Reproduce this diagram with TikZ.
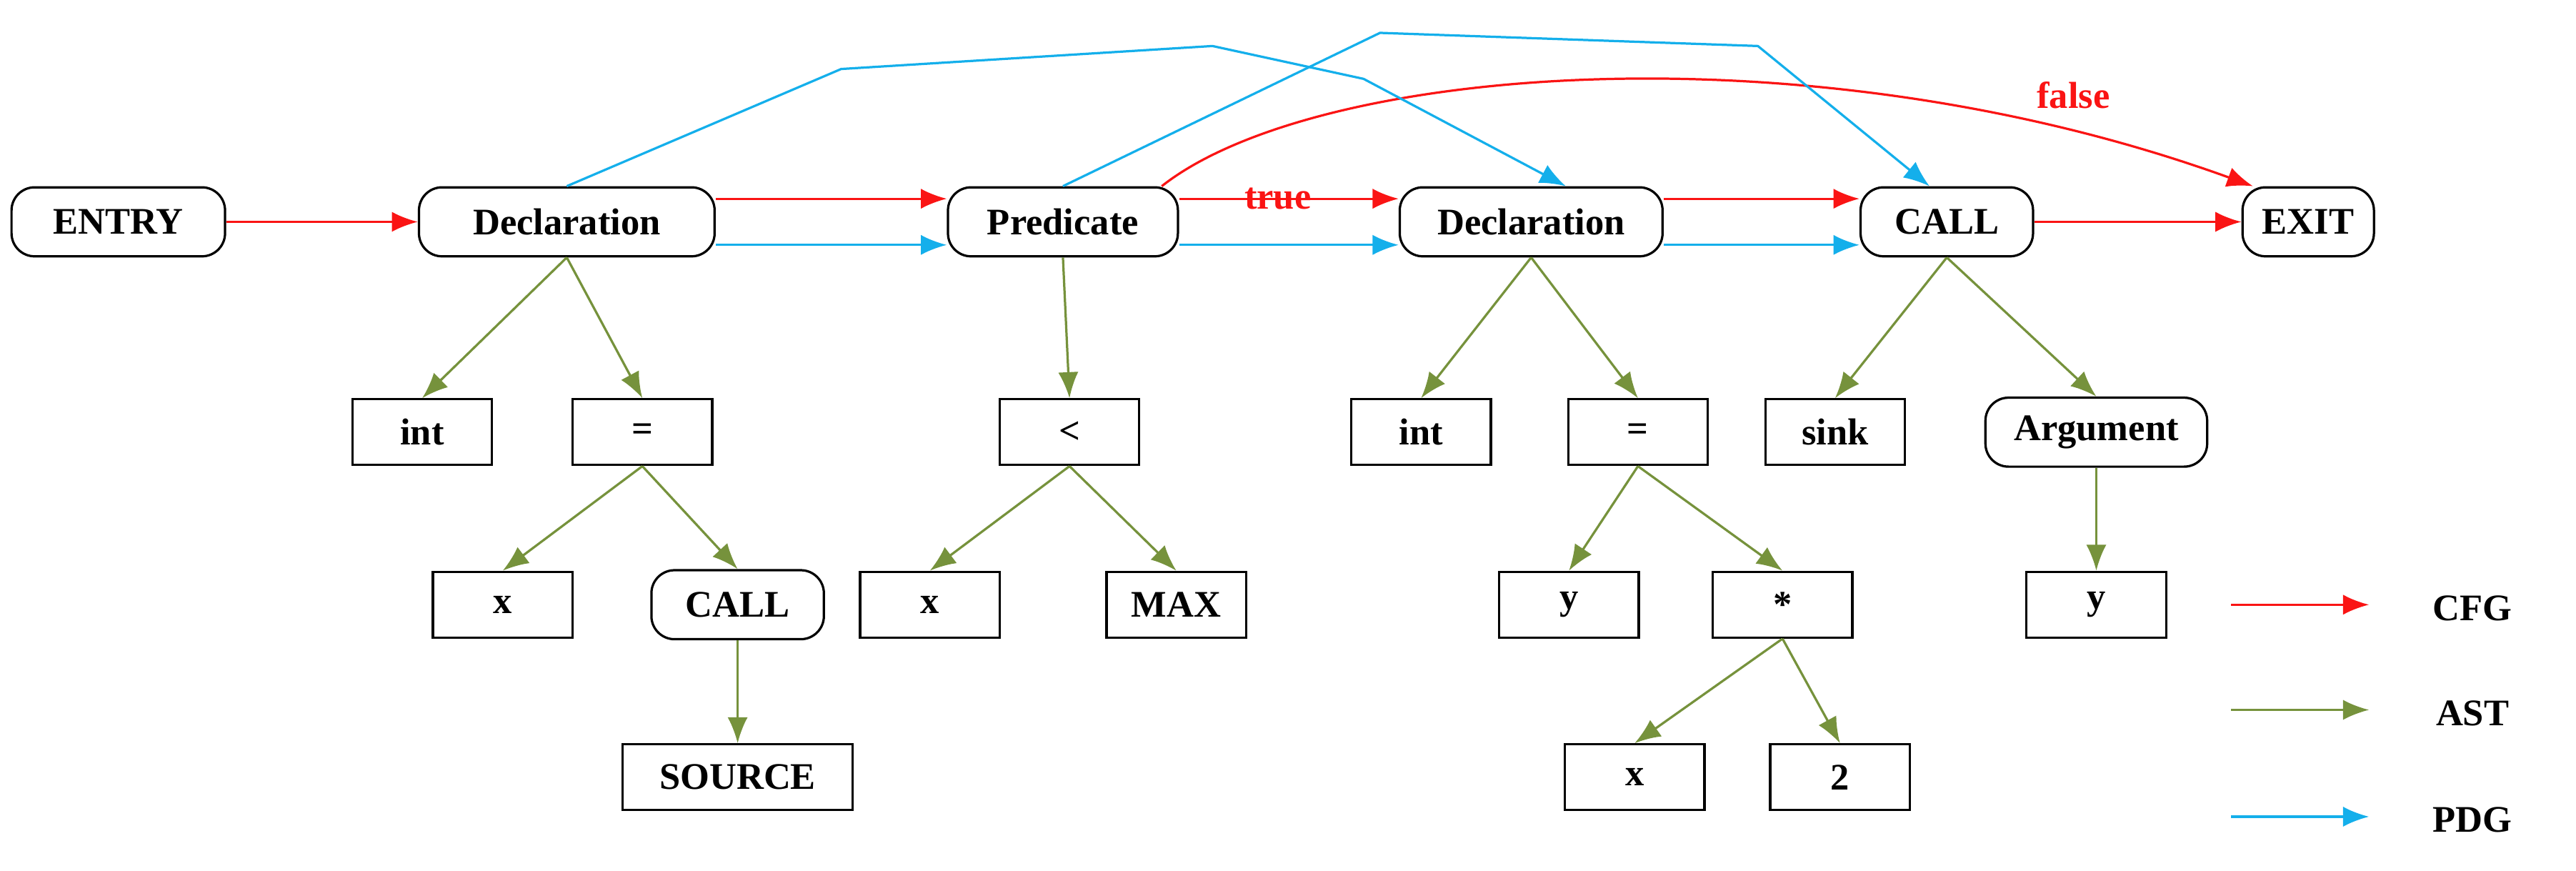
\documentclass[tikz,border=0pt]{standalone}
\usepackage{fontspec}
\setmainfont{Liberation Serif}
\usetikzlibrary{arrows.meta}
\definecolor{cfgred}{RGB}{250,20,20}
\definecolor{astgreen}{RGB}{118,146,60}
\definecolor{pdgblue}{RGB}{20,175,235}
\tikzstyle{stmt} = [rectangle, rounded corners=8pt, draw=black, thick, minimum height=0.84cm, inner sep=3pt, font=\fontsize{13}{15}\selectfont\bfseries]
\tikzstyle{leaf} = [rectangle, draw=black, thick, minimum height=0.8cm, inner sep=3pt, font=\fontsize{13}{15}\selectfont\bfseries]
\tikzstyle{cfg} = [thick, cfgred, -{Latex[length=9pt,width=7pt]}]
\tikzstyle{ast} = [thick, astgreen, -{Latex[length=9pt,width=7pt]}]
\tikzstyle{pdg} = [thick, pdgblue, -{Latex[length=9pt,width=7pt]}]
\begin{document}
\begin{tikzpicture}[x=0.02cm,y=-0.02cm]
\useasboundingbox (0,0) rectangle (1568,530);
% statements
\node (entry) [stmt, minimum width=2.6cm] at (72,135) {ENTRY};
\node (decl1) [stmt, minimum width=3.6cm] at (345,135) {Declaration};
\node (pred) [stmt, minimum width=2.8cm] at (647,135) {Predicate};
\node (decl2) [stmt, minimum width=3.2cm] at (932,135) {Declaration};
\node (call) [stmt, minimum width=2.1cm] at (1185,135) {CALL};
\node (exit) [stmt, minimum width=1.6cm] at (1405,135) {EXIT};
% AST nodes
\node (int1) [leaf, minimum width=1.7cm] at (257,263) {int};
\node (eq1) [leaf, minimum width=1.7cm] at (391,263) {=};
\node (x1) [leaf, minimum width=1.7cm] at (306,368) {x};
\node (call2) [stmt, minimum width=2.1cm] at (449,368) {CALL};
\node (src) [leaf, minimum width=2.8cm] at (449,473) {SOURCE};
\node (lt) [leaf, minimum width=1.7cm] at (651,263) {<};
\node (x2) [leaf, minimum width=1.7cm] at (566,368) {x};
\node (max) [leaf, minimum width=1.7cm] at (716,368) {MAX};
\node (int2) [leaf, minimum width=1.7cm] at (865,263) {int};
\node (eq2) [leaf, minimum width=1.7cm] at (997,263) {=};
\node (y1) [leaf, minimum width=1.7cm] at (955,368) {y};
\node (mul) [leaf, minimum width=1.7cm] at (1085,368) {*};
\node (x3) [leaf, minimum width=1.7cm] at (995,473) {x};
\node (two) [leaf, minimum width=1.7cm] at (1120,473) {2};
\node (sink) [leaf, minimum width=1.7cm] at (1117,263) {sink};
\node (arg) [stmt, minimum width=2.7cm] at (1276,263) {Argument};
\node (y2) [leaf, minimum width=1.7cm] at (1276,368) {y};
% CFG
\draw [cfg] ([yshift=8pt]decl1.east) -- ([yshift=8pt]pred.west);
\draw [cfg] (entry) -- (decl1);
\draw [cfg] ([yshift=8pt]pred.east) -- node[pos=0.45, font=\fontsize{13}{15}\selectfont\bfseries] {true} ([yshift=8pt]decl2.west);
\draw [cfg] ([yshift=8pt]decl2.east) -- ([yshift=8pt]call.west);
\draw [cfg] (call) -- (exit);
\draw [cfg] ([xshift=-6pt]pred.north east) .. controls (800,40) and (1100,15) .. ([xshift=4pt]exit.north west);
\node (lfalse) [font=\fontsize{13}{15}\selectfont\bfseries, text=cfgred] at (1262,58) {false};
% PDG
\draw [pdg] ([yshift=-8pt]decl1.east) -- ([yshift=-8pt]pred.west);
\draw [pdg] ([yshift=-8pt]pred.east) -- ([yshift=-8pt]decl2.west);
\draw [pdg] ([yshift=-8pt]decl2.east) -- ([yshift=-8pt]call.west);
\draw [pdg] (decl1.north) -- (512,42) -- (738,28) -- (830,48) -- ([xshift=12pt]decl2.north);
\draw [pdg] (pred.north) -- (840,20) -- (1070,28) -- ([xshift=-6pt]call.north);
% AST
\draw [ast] (decl1.south) -- (int1.north);
\draw [ast] (decl1.south) -- (eq1.north);
\draw [ast] (eq1.south) -- (x1.north);
\draw [ast] (eq1.south) -- (call2.north);
\draw [ast] (call2) -- (src);
\draw [ast] (pred.south) -- (lt.north);
\draw [ast] (lt.south) -- (x2.north);
\draw [ast] (lt.south) -- (max.north);
\draw [ast] (decl2.south) -- (int2.north);
\draw [ast] (decl2.south) -- (eq2.north);
\draw [ast] (eq2.south) -- (y1.north);
\draw [ast] (eq2.south) -- (mul.north);
\draw [ast] (mul.south) -- (x3.north);
\draw [ast] (mul.south) -- (two.north);
\draw [ast] (call.south) -- (sink.north);
\draw [ast] (call.south) -- (arg.north);
\draw [ast] (arg) -- (y2);
% legend
\coordinate (c1) at (1358,368); \coordinate (c2) at (1442,368);
\coordinate (a1) at (1358,432); \coordinate (a2) at (1442,432);
\coordinate (p1) at (1358,497); \coordinate (p2) at (1442,497);
\draw [cfg] (c1) -- (c2);
\draw [ast] (a1) -- (a2);
\draw [pdg] (p1) -- (p2);
\node (lcfg) [font=\fontsize{13}{15}\selectfont\bfseries] at (1505,370) {CFG};
\node (last) [font=\fontsize{13}{15}\selectfont\bfseries] at (1505,434) {AST};
\node (lpdg) [font=\fontsize{13}{15}\selectfont\bfseries] at (1505,499) {PDG};
\end{tikzpicture}
\end{document}
